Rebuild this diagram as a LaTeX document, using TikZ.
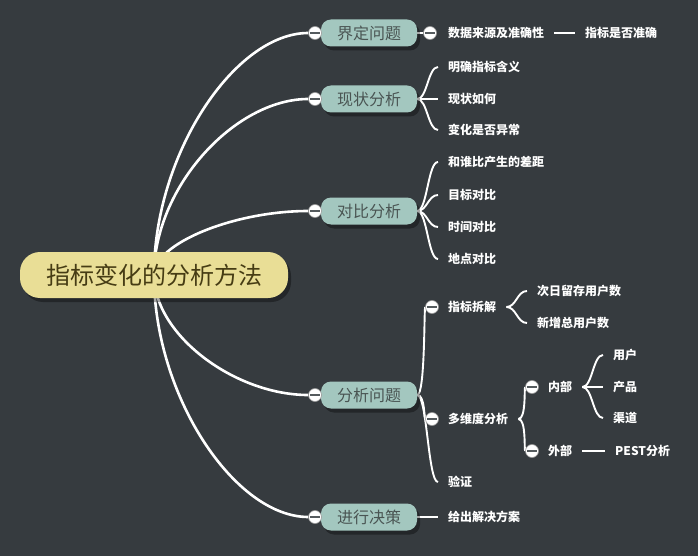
\documentclass[tikz,border=0pt]{standalone}
\usepackage{fontspec}
\setmainfont{Noto Sans CJK SC}
\usetikzlibrary{shadows,backgrounds}
\definecolor{bgcol}{HTML}{363B3F}
\definecolor{rootfill}{HTML}{E9DE96}
\definecolor{roottext}{HTML}{463C14}
\definecolor{topicfill}{HTML}{A3C7BF}
\definecolor{topictext}{HTML}{4A5553}
\definecolor{knobedge}{HTML}{9A9A9A}
\definecolor{knobminus}{HTML}{555B5E}
\tikzset{
  rootbox/.style={fill=rootfill, rounded corners=20pt, minimum width=268pt, minimum height=46pt, inner sep=0pt,
    font=\fontsize{24}{28}\selectfont, text=roottext,
    drop shadow={shadow xshift=3pt, shadow yshift=-4pt, fill=black, opacity=0.35}},
  topicbox/.style={fill=topicfill, rounded corners=10pt, minimum width=96pt, minimum height=27pt, inner sep=0pt,
    font=\fontsize{16}{19}\selectfont, text=topictext,
    drop shadow={shadow xshift=3pt, shadow yshift=-4pt, fill=black, opacity=0.35}},
  leaf/.style={anchor=west, inner xsep=10pt, inner ysep=0pt, text=white, font=\fontsize{12}{14}\selectfont\bfseries},
  knob/.style={circle, fill=white, draw=knobedge, line width=0.6pt, minimum size=13pt, inner sep=0pt,
    path picture={\draw[knobminus, line width=1.3pt]
      ([xshift=-5pt]path picture bounding box.center) -- ([xshift=5pt]path picture bounding box.center);}},
  link/.style={draw=white, line width=2.6pt},
  twig/.style={draw=white, line width=1.9pt},
}
\begin{document}
\begin{tikzpicture}[x=1pt,y=-1pt]
\begin{scope}[on background layer]
  \fill[bgcol] (0,0) rectangle (698,556);
\end{scope}
\useasboundingbox (0,0) rectangle (698,556);

% root
\node[rootbox] (root) at (154,275) {指标变化的分析方法};

% main topics
\node[topicbox] (t1) at (369,33) {界定问题};
\node[topicbox] (t2) at (369,99) {现状分析};
\node[topicbox] (t3) at (369,211) {对比分析};
\node[topicbox] (t4) at (369,395) {分析问题};
\node[topicbox] (t5) at (369,517) {进行决策};

\node[knob] (k1) at (315,33) {};
\node[knob] (k2) at (315,99) {};
\node[knob] (k3) at (315,211) {};
\node[knob] (k4) at (315,395) {};
\node[knob] (k5) at (315,517) {};

% 界定问题
\node[knob] (k1r) at (430,33) {};
\node[leaf] (a1) at (438,33) {数据来源及准确性};
\node[leaf] (a2) at (575,33) {指标是否准确};

% 现状分析
\node[leaf] (b1) at (438,67) {明确指标含义};
\node[leaf] (b2) at (438,99) {现状如何};
\node[leaf] (b3) at (438,130) {变化是否异常};

% 对比分析
\node[leaf] (c1) at (438,162) {和谁比产生的差距};
\node[leaf] (c2) at (438,195) {目标对比};
\node[leaf] (c3) at (438,227) {时间对比};
\node[leaf] (c4) at (438,259) {地点对比};

% 分析问题
\node[knob] (kd1) at (432,307) {};
\node[leaf] (d1) at (438,307) {指标拆解};
\node[knob] (kd2) at (432,419) {};
\node[leaf] (d2) at (438,419) {多维度分析};
\node[leaf] (d3) at (438,482) {验证};

\node[leaf] (e1) at (527,291) {次日留存用户数};
\node[leaf] (e2) at (527,323) {新增总用户数};

\node[knob] (kf1) at (532,387) {};
\node[leaf] (f1) at (538,387) {内部};
\node[knob] (kf2) at (532,451) {};
\node[leaf] (f2) at (538,451) {外部};

\node[leaf] (g1) at (603,355) {用户};
\node[leaf] (g2) at (603,387) {产品};
\node[leaf] (g3) at (603,418) {渠道};
\node[leaf] (h1) at (605,451) {PEST分析};

% 进行决策
\node[leaf] (i1) at (438,517) {给出解决方案};

\begin{scope}[on background layer]
  % root curves
  \draw[link] (root.center) .. controls +(0,-121) and +(-80,0) .. (k1);
  \draw[link] (root.center) .. controls +(0,-88) and +(-80,0) .. (k2);
  \draw[link] (root.center) .. controls +(0,-32) and +(-80,0) .. (k3);
  \draw[link] (root.center) .. controls +(0,60) and +(-80,0) .. (k4);
  \draw[link] (root.center) .. controls +(0,121) and +(-80,0) .. (k5);

  % 界定问题
  \draw[twig] (t1.east) -- (k1r);
  \draw[twig] (a1.east) -- (a2.west);

  % 现状分析
  \draw[twig] (t2.east) .. controls +(10,0) and +(-10,0) .. (b1.west);
  \draw[twig] (t2.east) -- (b2.west);
  \draw[twig] (t2.east) .. controls +(10,0) and +(-10,0) .. (b3.west);

  % 对比分析
  \foreach \c in {c1,c2,c3,c4}
    \draw[twig] (t3.east) .. controls +(10,0) and +(-10,0) .. (\c.west);

  % 分析问题
  \draw[twig] (t4.east) .. controls +(8,0) and +(-8,0) .. (kd1);
  \draw[twig] (t4.east) .. controls +(8,0) and +(-8,0) .. (kd2);
  \draw[twig] (t4.east) .. controls +(10,0) and +(-10,0) .. (d3.west);

  \draw[twig] (d1.east) .. controls +(10,0) and +(-10,0) .. (e1.west);
  \draw[twig] (d1.east) .. controls +(10,0) and +(-10,0) .. (e2.west);

  \draw[twig] (d2.east) .. controls +(8,0) and +(-8,0) .. (kf1);
  \draw[twig] (d2.east) .. controls +(8,0) and +(-8,0) .. (kf2);

  \draw[twig] (f1.east) .. controls +(10,0) and +(-10,0) .. (g1.west);
  \draw[twig] (f1.east) -- (g2.west);
  \draw[twig] (f1.east) .. controls +(10,0) and +(-10,0) .. (g3.west);
  \draw[twig] (f2.east) -- (h1.west);

  % 进行决策
  \draw[twig] (t5.east) -- (i1.west);
\end{scope}
\end{tikzpicture}
\end{document}
